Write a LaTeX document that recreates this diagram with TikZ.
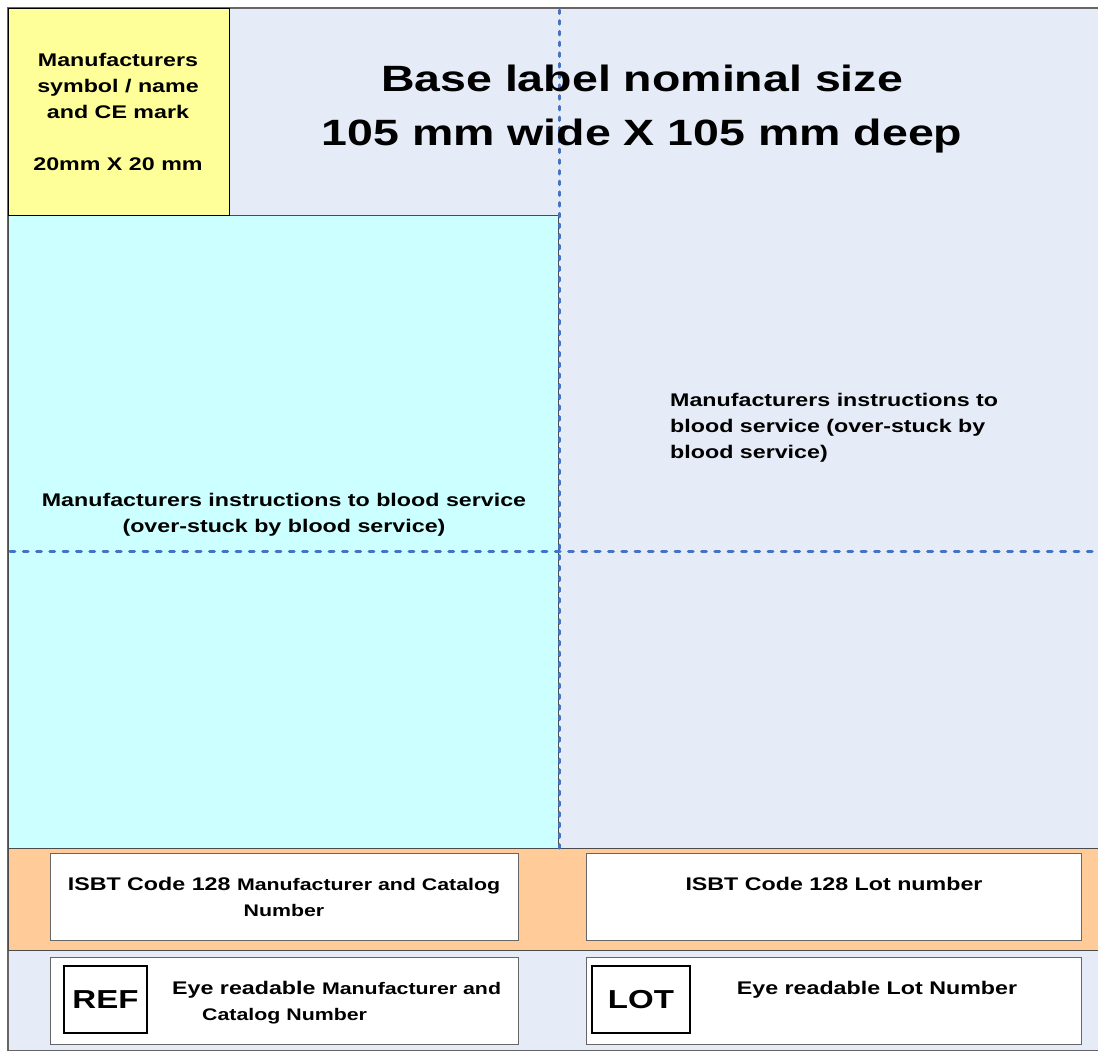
\documentclass[tikz,border=0pt]{standalone}
\usepackage{fontspec}
\setmainfont{Liberation Sans}
\newfontfamily\lblfont{Liberation Sans}[FakeStretch=1.27]

\definecolor{labelblue}{HTML}{E6ECF7}
\definecolor{symbolyellow}{HTML}{FFFF99}
\definecolor{instrcyan}{HTML}{CCFFFF}
\definecolor{codeorange}{HTML}{FFCC99}
\definecolor{guideblue}{HTML}{4472C4}

\tikzset{
  bodytext/.style={font=\lblfont\bfseries\fontsize{18.3}{26}\selectfont, align=center, inner sep=0pt},
  titletext/.style={font=\lblfont\bfseries\fontsize{36.6}{54}\selectfont, align=center, inner sep=0pt},
  symtext/.style={font=\lblfont\bfseries\fontsize{26}{30}\selectfont, inner sep=0pt},
  whitebox/.style={fill=white, draw=black!60, line width=0.8pt},
  symbox/.style={draw=black, line width=1.6pt},
  guideline/.style={draw=guideblue, line width=3pt, line cap=round}
}
\newcommand{\smalltxt}[1]{{\fontsize{16.8}{26}\selectfont #1}}

\begin{document}
\begin{tikzpicture}[x=1pt,y=-1pt]
  \useasboundingbox (0,0) rectangle (1098,1050);
  \fill[white] (0,0) rectangle (1098,1050);

  % base label and its areas
  \filldraw[fill=labelblue, draw=black!60, line width=1.2pt] (8,8) rectangle (1099,1051);
  \filldraw[fill=instrcyan, draw=black!70, line width=0.6pt] (8,215) rectangle (558,848);
  \filldraw[fill=symbolyellow, draw=black, line width=0.8pt] (8,8) rectangle (229,215);
  \filldraw[fill=codeorange, draw=black!70, line width=1pt] (8,848) rectangle (1099,950);

  % code boxes
  \filldraw[whitebox] (50,853) rectangle (518,940);
  \filldraw[whitebox] (586,853) rectangle (1081,940);
  \filldraw[whitebox] (50,957) rectangle (518,1044);
  \filldraw[whitebox] (586,957) rectangle (1081,1044);
  \draw[symbox] (64,966) rectangle (147,1033);
  \draw[symbox] (592,966) rectangle (690,1033);

  % fold guides
  \draw[guideline, dash pattern=on 3.5pt off 7.2pt] (559,10) -- (559,848);
  \draw[guideline, dash pattern=on 4.8pt off 8.5pt] (10,551) -- (1098,551);

  % texts
  \node[bodytext] (maker) at (118,112) {Manufacturers\\symbol / name\\and CE mark\\[26pt]20mm X 20 mm};
  \node[titletext] (title) at (642,109) {Base label nominal size\\105 mm wide X 105 mm deep};
  \node[bodytext] (instrleft) at (284,515) {Manufacturers instructions to blood service\\(over-stuck by blood service)};
  \node[bodytext, align=left, anchor=west] (instrright) at (670,428) {Manufacturers instructions to\\blood service (over-stuck by\\blood service)};
  \node[bodytext] (catcode) at (284,897) {ISBT Code 128 \smalltxt{Manufacturer and Catalog}\\\smalltxt{Number}};
  \node[bodytext] (lotcode) at (834,884) {ISBT Code 128 Lot number};
  \node[bodytext, align=left, anchor=west] (cattext) at (172,1003) {Eye readable \smalltxt{Manufacturer and}\\\hspace*{30pt}\smalltxt{Catalog Number}};
  \node[bodytext] (lottext) at (877,990) {Eye readable Lot Number};
  \node[symtext] (ref) at (105.5,999.5) {REF};
  \node[symtext] (lot) at (641,999.5) {LOT};
\end{tikzpicture}
\end{document}
